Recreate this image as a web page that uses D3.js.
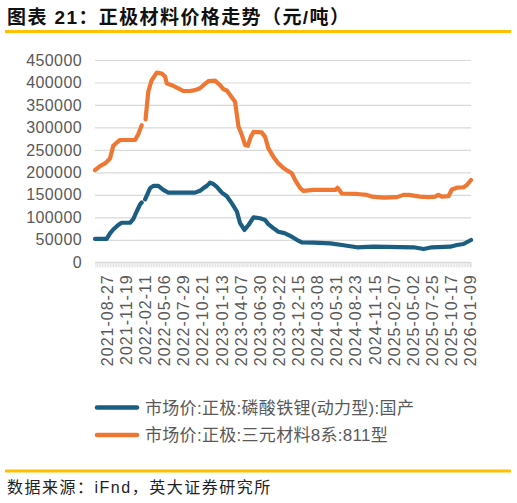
<!DOCTYPE html>
<html>
<head>
<meta charset="utf-8">
<script src="https://cdn.jsdelivr.net/npm/d3@7"></script>
<style>
  html, body { margin: 0; padding: 0; background: #fff; }
  svg { display: block; }
  text { font-family: "Liberation Sans", "Noto Sans CJK SC", sans-serif; }
</style>
</head>
<body>
<svg id="chart" width="517" height="503"></svg>
<script>
// ---- data ----
const titleText = "图表 21：正极材料价格走势（元/吨）";
const sourceText = "数据来源：iFnd，英大证券研究所";
const seriesNames = ["市场价:正极:磷酸铁锂(动力型):国产", "市场价:正极:三元材料8系:811型"];

const yTicks = [0, 50000, 100000, 150000, 200000, 250000, 300000, 350000, 400000, 450000];
const xTickLabels = ["2021-08-27","2021-11-19","2022-02-11","2022-05-06","2022-07-29","2022-10-21",
  "2023-01-13","2023-04-07","2023-06-30","2023-09-22","2023-12-15","2024-03-08","2024-05-31",
  "2024-08-23","2024-11-15","2025-02-07","2025-05-02","2025-07-25","2025-10-17","2026-01-09"];
const xDomain = ["2021-07-07", "2026-01-13"];

// LFP (blue)
const lfpDates = ["2021-07-07","2021-08-27","2021-09-11","2021-09-25","2021-10-17","2021-11-01",
  "2021-12-08","2021-12-22","2022-01-06","2022-01-21","2022-01-28","2022-02-04","2022-02-12",
  "2022-03-06","2022-03-20","2022-04-11","2022-05-03","2022-05-25","2022-09-19","2022-10-11",
  "2022-10-26","2022-11-10","2022-11-24","2022-12-09","2022-12-24","2023-01-15","2023-02-06",
  "2023-02-28","2023-03-22","2023-04-05","2023-04-24","2023-05-12","2023-06-03","2023-07-02",
  "2023-07-24","2023-08-07","2023-08-29","2023-09-20","2023-10-17","2023-11-18","2023-12-10",
  "2024-01-01","2024-02-21","2024-05-05","2024-06-25","2024-08-30","2024-11-11","2025-05-06",
  "2025-06-19","2025-07-25","2025-10-14","2025-11-12","2025-12-11","2026-01-13"];
const lfpValues = [52000,52000,64500,73000,83000,88000,
  88000,96000,113000,129000,133000,null,140000,
  165000,170000,170000,161000,155000,155000,159000,
  165000,170000,177000,174000,168000,155000,147000,
  131000,113000,87000,72000,83000,100000,98000,
  94000,85000,76000,68000,65000,57000,50000,
  44500,43600,42000,38500,33400,34700,33400,
  29600,33400,34700,38500,40700,49600];

// NCM 811 (orange)
const nmcDates = ["2021-07-07","2021-07-29","2021-08-20","2021-09-11","2021-09-25","2021-10-10",
  "2021-10-25","2021-12-30","2022-01-13","2022-01-28","2022-02-04","2022-02-14","2022-02-26",
  "2022-03-13","2022-04-04","2022-04-26","2022-05-11","2022-05-18","2022-06-09","2022-07-08",
  "2022-07-30","2022-08-28","2022-09-19","2022-10-11","2022-10-26","2022-11-17","2022-12-16",
  "2023-01-07","2023-01-22","2023-02-06","2023-02-20","2023-03-14","2023-03-29","2023-04-13",
  "2023-04-27","2023-05-09","2023-05-22","2023-06-03","2023-07-09","2023-07-24","2023-08-07",
  "2023-08-29","2023-09-20","2023-10-12","2023-10-27","2023-11-18","2023-12-03","2023-12-25",
  "2024-01-08","2024-02-21","2024-04-05","2024-05-27","2024-06-06","2024-06-25","2024-08-30",
  "2024-10-13","2024-11-04","2024-12-25","2025-02-22","2025-03-23","2025-04-14","2025-06-04",
  "2025-07-11","2025-08-09","2025-08-23","2025-09-07","2025-10-06","2025-10-21","2025-11-12",
  "2025-12-11","2025-12-26","2026-01-13"];
const nmcValues = [205000,214000,220000,231000,259000,266000,
  272000,272000,285000,305000,null,318000,380000,
  405000,422000,420000,413000,398000,394000,387000,
  381000,381000,383000,387000,394000,403000,404000,
  394000,385000,382000,372000,357000,302000,283000,
  261000,259000,279000,290000,289000,279000,254000,
  235000,220000,210000,205000,198000,183000,165000,
  159000,161000,161000,161000,166000,153000,152000,
  150000,146000,144000,145000,150000,150000,146000,
  145000,146000,150000,146000,147000,162000,166000,
  167000,172000,183000];

const colors = ["#1B5E82", "#EE7733"];

// ---- drawing ----
const svg = d3.select("#chart");
const parse = d3.utcParse("%Y-%m-%d");
const fmt = d3.utcFormat("%Y-%m-%d");
const plot = { left: 95, right: 471, top: 60, bottom: 262.3 };
const gray = "#595959";
const gridColor = "#D9D9D9";

svg.append("rect").attr("width", 517).attr("height", 503).attr("fill", "#fff");

// title
svg.append("text").attr("x", 7).attr("y", 24)
  .attr("font-family", "'Noto Sans CJK SC', sans-serif")
  .attr("font-size", 19).attr("font-weight", 700).attr("fill", "#111")
  .style("letter-spacing", "1.4px")
  .text(titleText);
svg.append("line").attr("x1", 5).attr("x2", 511).attr("y1", 31.5).attr("y2", 31.5)
  .attr("stroke", "#FFC000").attr("stroke-width", 3);

const x = d3.scaleUtc().domain(xDomain.map(parse)).range([plot.left, plot.right]);
const y = d3.scaleLinear().domain([0, 450000]).range([plot.bottom, plot.top]);

// gridlines
const grid = svg.append("g").attr("transform", `translate(${plot.left},0)`)
  .call(d3.axisLeft(y).tickValues(yTicks.slice(1)).tickSize(-(plot.right - plot.left)).tickFormat(""));
grid.select(".domain").remove();
grid.selectAll("line").attr("stroke", gridColor).attr("stroke-width", 1.2);

// y labels
const yAx = svg.append("g").attr("transform", `translate(${plot.left},0)`)
  .call(d3.axisLeft(y).tickValues(yTicks).tickSize(0).tickPadding(13).tickFormat(d3.format("d")));
yAx.select(".domain").remove();
yAx.selectAll("text").attr("fill", gray).attr("font-size", 16)
  .attr("font-family", "'Liberation Sans', sans-serif").style("letter-spacing", "0.4px");

// x axis: minor ticks (weekly)
const weekTicks = d3.utcFriday.range(parse("2021-07-02"), parse("2026-01-14")).filter(d => x(d) >= plot.left - 0.5);
const xMinor = svg.append("g").attr("transform", `translate(0,${plot.bottom})`)
  .call(d3.axisBottom(x).tickValues(weekTicks).tickSize(5).tickFormat(""));
xMinor.select(".domain").attr("stroke", gridColor).attr("stroke-width", 1.2)
  .attr("d", `M${plot.left},0H${plot.right}`);
xMinor.selectAll(".tick line").attr("stroke", gridColor).attr("stroke-width", 0.8);
xMinor.append("line").attr("x1", plot.right).attr("x2", plot.right).attr("y1", 0).attr("y2", 5)
  .attr("stroke", gridColor);

// x labels
const xLab = svg.append("g").attr("transform", `translate(0,${plot.bottom})`)
  .call(d3.axisBottom(x).tickValues(xTickLabels.map(parse)).tickSize(0).tickFormat(fmt));
xLab.select(".domain").remove();
xLab.selectAll("text")
  .attr("fill", gray).attr("font-size", 16)
  .attr("font-family", "'Liberation Sans', sans-serif")
  .style("letter-spacing", "1px")
  .attr("text-anchor", "end")
  .attr("transform", "rotate(-90)")
  .attr("x", -12).attr("y", 0).attr("dy", "0.35em");

// lines
const line = d3.line()
  .defined(d => d.v !== null)
  .x(d => x(d.d)).y(d => y(d.v));
const lfp = lfpDates.map((d, i) => ({ d: parse(d), v: lfpValues[i] }));
const nmc = nmcDates.map((d, i) => ({ d: parse(d), v: nmcValues[i] }));
[lfp, nmc].forEach((data, i) => {
  svg.append("path").datum(data)
    .attr("fill", "none").attr("stroke", colors[i]).attr("stroke-width", 4.2)
    .attr("stroke-linejoin", "round").attr("stroke-linecap", "round")
    .attr("d", line);
});

// legend
const legend = svg.append("g");
const legY = [407.5, 435];
seriesNames.forEach((name, i) => {
  legend.append("line").attr("x1", 97).attr("x2", 137).attr("y1", legY[i]).attr("y2", legY[i])
    .attr("stroke", colors[i]).attr("stroke-width", 4.5).attr("stroke-linecap", "round");
  legend.append("text").attr("x", 145).attr("y", legY[i]).attr("dy", "0.36em")
    .attr("fill", gray).attr("font-size", 17).style("letter-spacing", "0.3px")
    .text(name);
});

// bottom rule & source
svg.append("line").attr("x1", 5).attr("x2", 511).attr("y1", 471).attr("y2", 471)
  .attr("stroke", "#FFC000").attr("stroke-width", 3);
svg.append("text").attr("x", 7).attr("y", 493)
  .attr("font-family", "'Noto Sans CJK SC', sans-serif")
  .attr("font-size", 16).attr("fill", "#222").style("letter-spacing", "1.5px")
  .text(sourceText);
</script>
</body>
</html>
